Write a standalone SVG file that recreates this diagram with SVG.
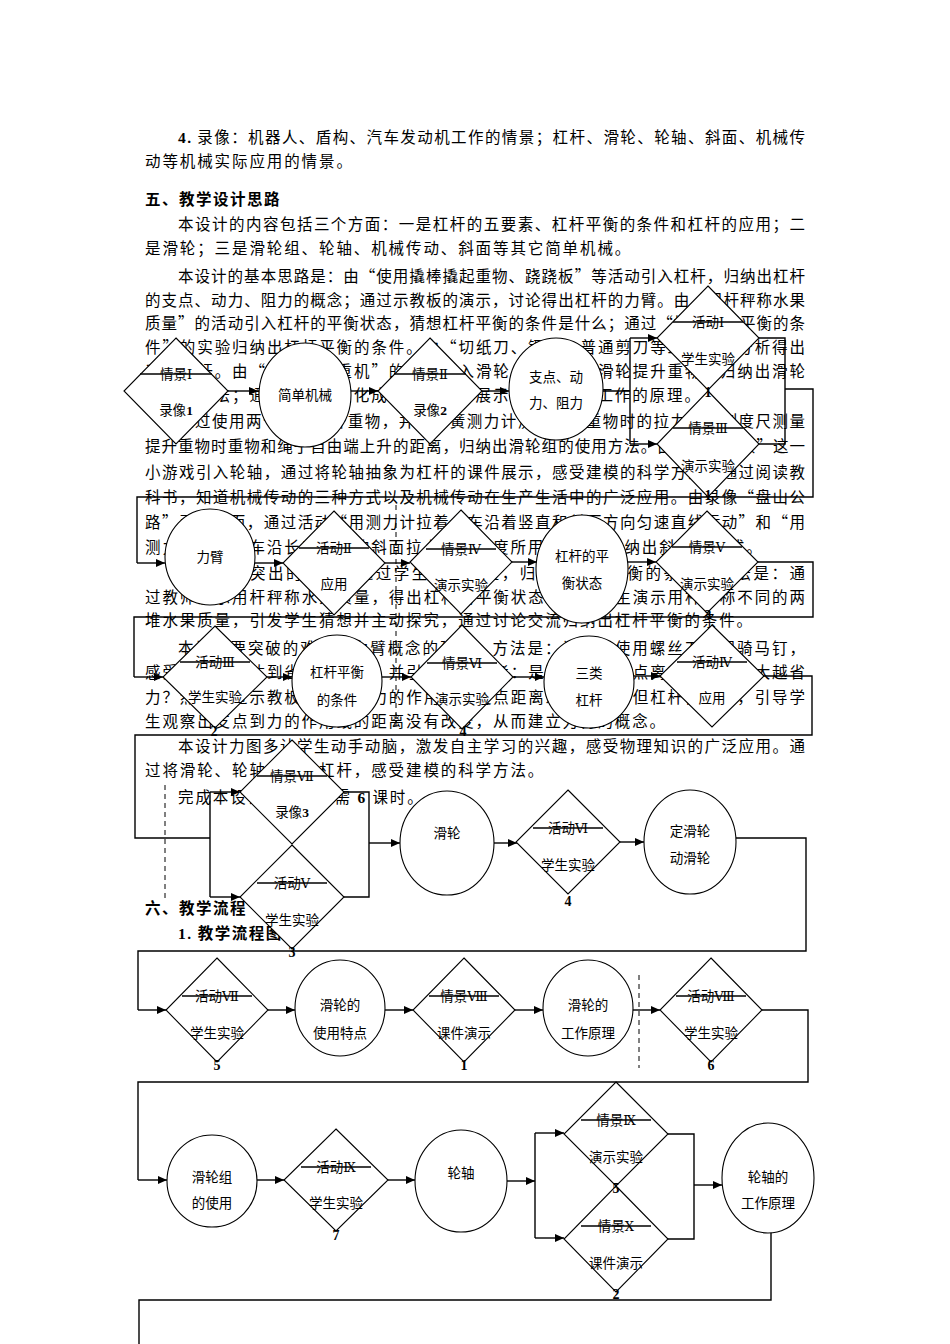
<svg xmlns="http://www.w3.org/2000/svg" width="950" height="1344" viewBox="0 0 950 1344">
<style>
.t{font-family:"Noto Sans CJK SC","Liberation Serif",serif;font-size:15.5px;fill:#000;letter-spacing:1.9px}
.j{letter-spacing:0}
.h{font-family:"Noto Sans CJK SC",sans-serif;font-size:15.5px;font-weight:bold;fill:#000;letter-spacing:1.5px}
.b{font-family:"Liberation Serif",serif;font-weight:bold}
.rn{font-family:"DejaVu Serif","Liberation Serif",serif;font-size:13px}
.lb{font-family:"Noto Sans CJK SC","Liberation Serif",sans-serif;font-size:13.5px;fill:#000;text-anchor:middle}
.num{font-family:"Liberation Serif",serif;font-size:14px;font-weight:bold;fill:#000;text-anchor:middle}
.shp{fill:#fff;stroke:#000;stroke-width:1.1}
.cn{fill:none;stroke:#000;stroke-width:1.4}
.st{stroke:#000;stroke-width:1.3}
.dash{stroke:#000;stroke-width:1;stroke-dasharray:5,4}
</style>
<defs>
<marker id="ar" markerUnits="userSpaceOnUse" markerWidth="9" markerHeight="8" refX="9" refY="4" orient="auto">
<path d="M0,0 L9,4 L0,8 z" fill="#000"/>
</marker>
</defs>
<rect width="950" height="1344" fill="#fff"/>
<g id="text">
<text class="t j" x="178" y="143" textLength="627" lengthAdjust="spacing"><tspan class="b">4.</tspan> 录像：机器人、盾构、汽车发动机工作的情景；杠杆、滑轮、轮轴、斜面、机械传</text>
<text class="t" x="145" y="167">动等机械实际应用的情景。</text>
<text class="h" x="145" y="205">五、教学设计思路</text>
<text class="t j" x="178" y="230" textLength="627" lengthAdjust="spacing">本设计的内容包括三个方面：一是杠杆的五要素、杠杆平衡的条件和杠杆的应用；二</text>
<text class="t" x="145" y="254">是滑轮；三是滑轮组、轮轴、机械传动、斜面等其它简单机械。</text>
<text class="t j" x="178" y="282" textLength="627" lengthAdjust="spacing">本设计的基本思路是：由“使用撬棒撬起重物、跷跷板”等活动引入杠杆，归纳出杠杆</text>
<text class="t j" x="145" y="306" textLength="660" lengthAdjust="spacing">的支点、动力、阻力的概念；通过示教板的演示，讨论得出杠杆的力臂。由“用杆秤称水果</text>
<text class="t j" x="145" y="329" textLength="660" lengthAdjust="spacing">质量”的活动引入杠杆的平衡状态，猜想杠杆平衡的条件是什么；通过“探究杠杆平衡的条</text>
<text class="t j" x="145" y="353" textLength="660" lengthAdjust="spacing">件”的实验归纳出杠杆平衡的条件。由“切纸刀、镊子、普通剪刀等工具”的分析得出</text>
<text class="t j" x="145" y="377" textLength="660" lengthAdjust="spacing">三类杠杆。由“升旗、起重机”的情景引入滑轮，通过安装滑轮提升重物，归纳出滑轮</text>
<text class="t" x="145" y="401">的使用方法；通过将滑轮演化成杠杆的课件展示，得出滑轮工作的原理。</text>
<text class="t j" x="178" y="427" textLength="627" lengthAdjust="spacing">通过使用两个滑轮提升重物，并用弹簧测力计测出提升重物时的拉力，用刻度尺测量</text>
<text class="t j" x="145" y="452" textLength="660" lengthAdjust="spacing">提升重物时重物和绳子自由端上升的距离，归纳出滑轮组的使用方法。由“拧水龙头”这一</text>
<text class="t j" x="145" y="478" textLength="660" lengthAdjust="spacing">小游戏引入轮轴，通过将轮轴抽象为杠杆的课件展示，感受建模的科学方法。通过阅读教</text>
<text class="t j" x="145" y="503" textLength="660" lengthAdjust="spacing">科书，知道机械传动的三种方式以及机械传动在生产生活中的广泛应用。由录像“盘山公</text>
<text class="t j" x="145" y="528" textLength="660" lengthAdjust="spacing">路”引入斜面，通过活动“用测力计拉着小车沿着竖直和斜面方向匀速直线运动”和“用</text>
<text class="t" x="145" y="553">测力计拉着小车沿长度不同的斜面拉上同一高度所用的力”，归纳出斜面的公式。</text>
<text class="t j" x="178" y="579" textLength="627" lengthAdjust="spacing">本设计要突出的重点是通过学生探究实验，归纳出杠杆平衡的条件。方法是：通</text>
<text class="t j" x="145" y="603" textLength="660" lengthAdjust="spacing">过教师演示用杆秤称水果质量，得出杠杆的平衡状态。再让学生演示用杆秤称不同的两</text>
<text class="t" x="145" y="626">堆水果质量，引发学生猜想并主动探究，通过讨论交流归纳出杠杆平衡的条件。</text>
<text class="t j" x="178" y="654" textLength="627" lengthAdjust="spacing">本设计要突破的难点是力臂概念的建立。方法是：让学生使用螺丝刀撬起骑马钉，</text>
<text class="t j" x="145" y="678" textLength="660" lengthAdjust="spacing">感受杠杆可以达到省力的目的，并引导学生思考：是否力的作用点离支点距离越大越省</text>
<text class="t j" x="145" y="703" textLength="660" lengthAdjust="spacing">力？然后通过示教板演示，动力的作用点到支点距离发生变化，但杠杆仍平衡，引导学</text>
<text class="t" x="145" y="727">生观察出支点到力的作用线的距离没有改变，从而建立力臂的概念。</text>
<text class="t j" x="178" y="752" textLength="627" lengthAdjust="spacing">本设计力图多让学生动手动脑，激发自主学习的兴趣，感受物理知识的广泛应用。通</text>
<text class="t" x="145" y="776">过将滑轮、轮轴抽象为杠杆，感受建模的科学方法。</text>
<text class="t" x="178" y="803">完成本设计的教学约需 <tspan class="b">6</tspan> 课时。</text>
<text class="h" x="145" y="914">六、教学流程</text>
<text class="h" x="178" y="939"><tspan class="b">1.</tspan> 教学流程图</text>
</g>
<g id="connectors">
<path class="cn" d="M228,391 H258" marker-end="url(#ar)"/>
<path class="cn" d="M351,391 H378" marker-end="url(#ar)"/>
<path class="cn" d="M482,391 H509" marker-end="url(#ar)"/>
<path class="cn" d="M603,391 H630 M630,338 V444"/>
<path class="cn" d="M630,338 H657" marker-end="url(#ar)"/>
<path class="cn" d="M630,444 H657" marker-end="url(#ar)"/>
<path class="cn" d="M759,338 H785 V444 H759 M785,389 H813 V497 H137 V563"/>
<path class="cn" d="M137,563 H165" marker-end="url(#ar)"/>
<path class="cn" d="M255,563 H283" marker-end="url(#ar)"/>
<path class="cn" d="M385,563 H410" marker-end="url(#ar)"/>
<path class="cn" d="M512,562 H537" marker-end="url(#ar)"/>
<path class="cn" d="M628,562 H656" marker-end="url(#ar)"/>
<path class="cn" d="M758,562 H813 V617 H134 V677"/>
<path class="cn" d="M134,677 H163" marker-end="url(#ar)"/>
<path class="cn" d="M267,677 H292" marker-end="url(#ar)"/>
<path class="cn" d="M382,677 H411" marker-end="url(#ar)"/>
<path class="cn" d="M513,677 H544" marker-end="url(#ar)"/>
<path class="cn" d="M634,676 H660" marker-end="url(#ar)"/>
<path class="cn" d="M764,676 H812 V735 H135 V838 H210 M210,792 V897"/>
<path class="cn" d="M210,792 H240" marker-end="url(#ar)"/>
<path class="cn" d="M210,897 H240" marker-end="url(#ar)"/>
<path class="cn" d="M344,792 H369 V897 H344"/>
<path class="cn" d="M369,843 H400" marker-end="url(#ar)"/>
<path class="cn" d="M494,843 H517" marker-end="url(#ar)"/>
<path class="cn" d="M620,842 H644" marker-end="url(#ar)"/>
<path class="cn" d="M736,838 H806 V951 H138 V1010"/>
<path class="cn" d="M138,1010 H166" marker-end="url(#ar)"/>
<path class="cn" d="M268,1010 H295" marker-end="url(#ar)"/>
<path class="cn" d="M385,1010 H413" marker-end="url(#ar)"/>
<path class="cn" d="M515,1010 H543" marker-end="url(#ar)"/>
<path class="cn" d="M633,1010 H660" marker-end="url(#ar)"/>
<path class="cn" d="M762,1010 H808 V1082 H138 V1180"/>
<path class="cn" d="M138,1180 H167" marker-end="url(#ar)"/>
<path class="cn" d="M257,1180 H284" marker-end="url(#ar)"/>
<path class="cn" d="M388,1180 H415" marker-end="url(#ar)"/>
<path class="cn" d="M507,1181 H535" marker-end="url(#ar)"/>
<path class="cn" d="M535,1133 V1238"/>
<path class="cn" d="M535,1133 H564" marker-end="url(#ar)"/>
<path class="cn" d="M535,1238 H564" marker-end="url(#ar)"/>
<path class="cn" d="M668,1134 H694 V1239 H668"/>
<path class="cn" d="M694,1185 H722" marker-end="url(#ar)"/>
<path class="cn" d="M771,1232 V1300 H139 V1344"/>
<line class="dash" x1="396" y1="505" x2="396" y2="728"/>
<line class="dash" x1="165" y1="785" x2="165" y2="902"/>
<line class="dash" x1="639" y1="975" x2="639" y2="1068"/>
</g>
<g id="n1"><polygon class="shp" points="176,338 228,391 176,444 124,391"/><text class="lb" x="176" y="379">情景<tspan class="rn">Ⅰ</tspan></text><line class="st" x1="140" y1="374" x2="212" y2="374"/><text class="lb" x="176" y="415">录像<tspan class="b">1</tspan></text></g>
<g id="n2"><ellipse class="shp" cx="305" cy="395" rx="46" ry="52"/><text class="lb" x="305" y="400">简单机械</text></g>
<g id="n3"><polygon class="shp" points="430,338 482,391 430,444 378,391"/><text class="lb" x="430" y="379">情景<tspan class="rn">Ⅱ</tspan></text><line class="st" x1="394" y1="374" x2="466" y2="374"/><text class="lb" x="430" y="415">录像<tspan class="b">2</tspan></text></g>
<g id="n4"><ellipse class="shp" cx="556" cy="389" rx="47" ry="51"/><text class="lb" x="556" y="382">支点、动</text><text class="lb" x="556" y="408">力、阻力</text></g>
<g id="n5"><polygon class="shp" points="708,286 759,338 708,390 657,338"/><text class="lb" x="708" y="327">活动<tspan class="rn">Ⅰ</tspan></text><line class="st" x1="673" y1="322" x2="743" y2="322"/><text class="lb" x="708" y="364">学生实验</text></g>
<g id="n6"><polygon class="shp" points="708,391 759,444 708,497 657,444"/><text class="lb" x="708" y="433">情景<tspan class="rn">Ⅲ</tspan></text><line class="st" x1="673" y1="428" x2="743" y2="428"/><text class="lb" x="708" y="471">演示实验</text><text class="num" x="708" y="500">1</text></g>
<text class="num" x="708" y="397">1</text>
<g id="n7"><ellipse class="shp" cx="210" cy="557" rx="45" ry="48"/><text class="lb" x="210" y="562">力臂</text></g>
<g id="n8"><polygon class="shp" points="334,511 385,563 334,615 283,563"/><text class="lb" x="334" y="553">活动<tspan class="rn">Ⅱ</tspan></text><line class="st" x1="299" y1="548" x2="369" y2="548"/><text class="lb" x="334" y="589">应用</text></g>
<g id="n9"><polygon class="shp" points="461,510 512,562 461,614 410,562"/><text class="lb" x="461" y="554">情景<tspan class="rn">Ⅳ</tspan></text><line class="st" x1="426" y1="549" x2="496" y2="549"/><text class="lb" x="461" y="590">演示实验</text></g>
<g id="n10"><ellipse class="shp" cx="582" cy="569" rx="46" ry="54"/><text class="lb" x="582" y="561">杠杆的平</text><text class="lb" x="582" y="588">衡状态</text></g>
<g id="n11"><polygon class="shp" points="707,511 758,562 707,613 656,562"/><text class="lb" x="707" y="552">情景<tspan class="rn">Ⅴ</tspan></text><line class="st" x1="672" y1="547" x2="742" y2="547"/><text class="lb" x="707" y="589">演示实验</text><text class="num" x="708" y="620">3</text></g>
<g id="n12"><polygon class="shp" points="215,626 267,677 215,728 163,677"/><text class="lb" x="215" y="667">活动<tspan class="rn">Ⅲ</tspan></text><line class="st" x1="180" y1="662" x2="250" y2="662"/><text class="lb" x="215" y="702">学生实验</text><text class="num" x="214" y="736">2</text></g>
<g id="n13"><ellipse class="shp" cx="337" cy="681" rx="45" ry="46"/><text class="lb" x="337" y="677">杠杆平衡</text><text class="lb" x="337" y="705">的条件</text></g>
<g id="n14"><polygon class="shp" points="462,625 513,677 462,729 411,677"/><text class="lb" x="462" y="668">情景<tspan class="rn">Ⅵ</tspan></text><line class="st" x1="427" y1="663" x2="497" y2="663"/><text class="lb" x="462" y="704">演示实验</text><text class="num" x="463" y="736">4</text></g>
<g id="n15"><ellipse class="shp" cx="589" cy="682" rx="45" ry="46"/><text class="lb" x="589" y="678">三类</text><text class="lb" x="589" y="705">杠杆</text></g>
<g id="n16"><polygon class="shp" points="712,625 764,676 712,727 660,676"/><text class="lb" x="712" y="667">活动<tspan class="rn">Ⅳ</tspan></text><line class="st" x1="677" y1="662" x2="747" y2="662"/><text class="lb" x="712" y="703">应用</text></g>
<g id="n17"><polygon class="shp" points="292,740 344,792 292,844 240,792"/><text class="lb" x="292" y="781">情景<tspan class="rn">Ⅶ</tspan></text><line class="st" x1="257" y1="776" x2="327" y2="776"/><text class="lb" x="292" y="817">录像<tspan class="b">3</tspan></text></g>
<g id="n18"><polygon class="shp" points="292,845 344,897 292,949 240,897"/><text class="lb" x="292" y="888">活动<tspan class="rn">Ⅴ</tspan></text><line class="st" x1="257" y1="883" x2="327" y2="883"/><text class="lb" x="292" y="925">学生实验</text><text class="num" x="292" y="957">3</text></g>
<g id="n19"><ellipse class="shp" cx="447" cy="843" rx="47" ry="52"/><text class="lb" x="447" y="838">滑轮</text></g>
<g id="n20"><polygon class="shp" points="568,790 620,842 568,894 516,842"/><text class="lb" x="568" y="833">活动<tspan class="rn">Ⅵ</tspan></text><line class="st" x1="533" y1="828" x2="603" y2="828"/><text class="lb" x="568" y="870">学生实验</text><text class="num" x="568" y="906">4</text></g>
<g id="n21"><ellipse class="shp" cx="690" cy="842" rx="46" ry="52"/><text class="lb" x="690" y="836">定滑轮</text><text class="lb" x="690" y="863">动滑轮</text></g>
<g id="n22"><polygon class="shp" points="217,958 268,1010 217,1062 166,1010"/><text class="lb" x="217" y="1001">活动<tspan class="rn">Ⅶ</tspan></text><line class="st" x1="182" y1="996" x2="252" y2="996"/><text class="lb" x="217" y="1038">学生实验</text><text class="num" x="217" y="1070">5</text></g>
<g id="n23"><ellipse class="shp" cx="340" cy="1008" rx="45" ry="48"/><text class="lb" x="340" y="1010">滑轮的</text><text class="lb" x="340" y="1038">使用特点</text></g>
<g id="n24"><polygon class="shp" points="464,958 515,1010 464,1062 413,1010"/><text class="lb" x="464" y="1001">情景<tspan class="rn">Ⅷ</tspan></text><line class="st" x1="429" y1="996" x2="499" y2="996"/><text class="lb" x="464" y="1038">课件演示</text><text class="num" x="464" y="1070">1</text></g>
<g id="n25"><ellipse class="shp" cx="588" cy="1008" rx="45" ry="48"/><text class="lb" x="588" y="1010">滑轮的</text><text class="lb" x="588" y="1038">工作原理</text></g>
<g id="n26"><polygon class="shp" points="711,958 762,1010 711,1062 660,1010"/><text class="lb" x="711" y="1001">活动<tspan class="rn">Ⅷ</tspan></text><line class="st" x1="676" y1="996" x2="746" y2="996"/><text class="lb" x="711" y="1038">学生实验</text><text class="num" x="711" y="1070">6</text></g>
<g id="n27"><ellipse class="shp" cx="212" cy="1181" rx="45" ry="46"/><text class="lb" x="212" y="1182">滑轮组</text><text class="lb" x="212" y="1208">的使用</text></g>
<g id="n28"><polygon class="shp" points="336,1129 388,1180 336,1231 284,1180"/><text class="lb" x="336" y="1172">活动<tspan class="rn">Ⅸ</tspan></text><line class="st" x1="301" y1="1167" x2="371" y2="1167"/><text class="lb" x="336" y="1208">学生实验</text><text class="num" x="336" y="1240">7</text></g>
<g id="n29"><ellipse class="shp" cx="461" cy="1181" rx="46" ry="51"/><text class="lb" x="461" y="1178">轮轴</text></g>
<g id="n30"><polygon class="shp" points="616,1082 668,1134 616,1186 564,1134"/><text class="lb" x="616" y="1125">情景<tspan class="rn">Ⅸ</tspan></text><line class="st" x1="581" y1="1120" x2="651" y2="1120"/><text class="lb" x="616" y="1162">演示实验</text></g>
<g id="n31"><polygon class="shp" points="616,1186 668,1239 616,1292 564,1239"/><text class="lb" x="616" y="1231">情景<tspan class="rn">Ⅹ</tspan></text><line class="st" x1="581" y1="1226" x2="651" y2="1226"/><text class="lb" x="616" y="1268">课件演示</text><text class="num" x="616" y="1299">2</text></g>
<text class="num" x="616" y="1193">5</text>
<g id="n32"><ellipse class="shp" cx="768" cy="1178" rx="46" ry="55"/><text class="lb" x="768" y="1182">轮轴的</text><text class="lb" x="768" y="1208">工作原理</text></g>
</svg>
